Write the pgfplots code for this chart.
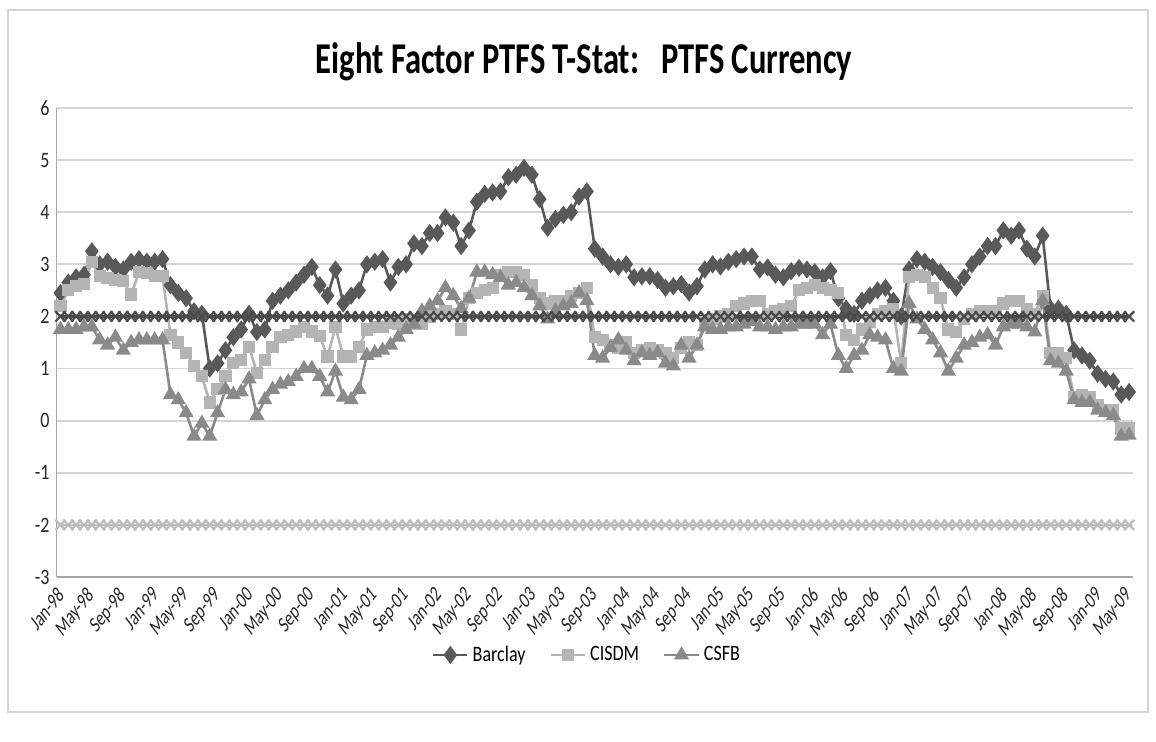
\documentclass[border=0pt]{standalone}
\usepackage{fontspec}
\setmainfont{Carlito}[FakeStretch=0.82]
\newfontfamily\titlefont{Carlito}[FakeStretch=0.74]
\usepackage{pgfplots}
\usepackage{pgfplotstable}
\usepackage{graphicx}
\pgfplotsset{compat=1.18}
\definecolor{cBar}{HTML}{595959}
\definecolor{cCis}{HTML}{B4B4B4}
\definecolor{cCsf}{HTML}{8A8A8A}
\definecolor{cUp}{HTML}{4A4A4A}
\definecolor{cLo}{HTML}{BDBDBD}
\definecolor{cGrid}{HTML}{D4D4D4}
\definecolor{cAxis}{HTML}{A6A6A6}
\newcommand\lbl[1]{\scalebox{0.78}[1]{\rotatebox{45}{#1}}}
\pgfplotstableread{
i B C S U L
0 2.45 2.2 1.75 2 -2
1 2.65 2.5 1.75 2 -2
2 2.75 2.58 1.75 2 -2
3 2.8 2.62 1.8 2 -2
4 3.25 3.05 1.8 2 -2
5 3.0 2.77 1.55 2 -2
6 3.05 2.74 1.45 2 -2
7 2.95 2.7 1.6 2 -2
8 2.9 2.68 1.35 2 -2
9 3.05 2.42 1.5 2 -2
10 3.1 2.85 1.55 2 -2
11 3.05 2.83 1.55 2 -2
12 3.05 2.77 1.55 2 -2
13 3.1 2.77 1.55 2 -2
14 2.6 1.65 0.5 2 -2
15 2.45 1.5 0.4 2 -2
16 2.35 1.3 0.15 2 -2
17 2.1 1.05 -0.3 2 -2
18 2.05 0.85 -0.05 2 -2
19 1.0 0.35 -0.3 2 -2
20 1.1 0.6 0.15 2 -2
21 1.35 0.85 0.6 2 -2
22 1.6 1.1 0.5 2 -2
23 1.75 1.17 0.55 2 -2
24 2.05 1.42 0.8 2 -2
25 1.7 0.92 0.1 2 -2
26 1.75 1.17 0.4 2 -2
27 2.3 1.42 0.6 2 -2
28 2.4 1.6 0.7 2 -2
29 2.5 1.65 0.75 2 -2
30 2.65 1.71 0.85 2 -2
31 2.8 1.8 1.0 2 -2
32 2.95 1.71 1.0 2 -2
33 2.6 1.62 0.85 2 -2
34 2.4 1.23 0.55 2 -2
35 2.9 1.8 0.95 2 -2
36 2.25 1.23 0.45 2 -2
37 2.4 1.23 0.4 2 -2
38 2.5 1.42 0.6 2 -2
39 3.0 1.75 1.25 2 -2
40 3.05 1.8 1.3 2 -2
41 3.1 1.8 1.35 2 -2
42 2.65 1.88 1.45 2 -2
43 2.95 1.85 1.6 2 -2
44 3.0 1.94 1.75 2 -2
45 3.4 1.85 1.85 2 -2
46 3.35 1.85 2.1 2 -2
47 3.6 2.0 2.2 2 -2
48 3.6 2.05 2.3 2 -2
49 3.9 2.1 2.55 2 -2
50 3.8 2.05 2.4 2 -2
51 3.35 1.75 2.15 2 -2
52 3.65 2.35 2.35 2 -2
53 4.2 2.45 2.85 2 -2
54 4.35 2.5 2.85 2 -2
55 4.38 2.55 2.8 2 -2
56 4.4 2.8 2.75 2 -2
57 4.67 2.85 2.6 2 -2
58 4.72 2.85 2.65 2 -2
59 4.85 2.8 2.55 2 -2
60 4.72 2.6 2.4 2 -2
61 4.25 2.35 2.2 2 -2
62 3.7 2.25 1.95 2 -2
63 3.87 2.3 2.1 2 -2
64 3.95 2.3 2.2 2 -2
65 4.0 2.4 2.25 2 -2
66 4.3 2.45 2.45 2 -2
67 4.4 2.55 2.3 2 -2
68 3.3 1.6 1.25 2 -2
69 3.15 1.55 1.2 2 -2
70 3.0 1.45 1.4 2 -2
71 2.95 1.4 1.55 2 -2
72 3.0 1.5 1.35 2 -2
73 2.75 1.3 1.15 2 -2
74 2.77 1.35 1.3 2 -2
75 2.77 1.4 1.25 2 -2
76 2.7 1.35 1.3 2 -2
77 2.55 1.3 1.1 2 -2
78 2.58 1.2 1.05 2 -2
79 2.62 1.4 1.45 2 -2
80 2.46 1.5 1.2 2 -2
81 2.58 1.45 1.45 2 -2
82 2.9 1.9 1.8 2 -2
83 3.0 1.95 1.75 2 -2
84 2.96 2.0 1.75 2 -2
85 3.05 2.05 1.8 2 -2
86 3.1 2.2 1.8 2 -2
87 3.15 2.25 1.85 2 -2
88 3.15 2.3 1.9 2 -2
89 2.9 2.3 1.8 2 -2
90 2.94 2.05 1.8 2 -2
91 2.8 2.1 1.75 2 -2
92 2.75 2.15 1.8 2 -2
93 2.87 2.2 1.8 2 -2
94 2.93 2.5 1.85 2 -2
95 2.9 2.55 1.85 2 -2
96 2.85 2.6 1.85 2 -2
97 2.75 2.55 1.65 2 -2
98 2.87 2.5 1.85 2 -2
99 2.35 2.45 1.25 2 -2
100 2.15 1.65 1.0 2 -2
101 2.05 1.55 1.25 2 -2
102 2.3 1.75 1.35 2 -2
103 2.4 1.9 1.65 2 -2
104 2.5 2.05 1.6 2 -2
105 2.55 2.1 1.55 2 -2
106 2.3 2.15 1.0 2 -2
107 2.0 1.1 0.95 2 -2
108 2.9 2.75 2.25 2 -2
109 3.1 2.8 1.95 2 -2
110 3.05 2.75 1.75 2 -2
111 2.95 2.55 1.55 2 -2
112 2.85 2.35 1.3 2 -2
113 2.7 1.75 0.95 2 -2
114 2.55 1.7 1.2 2 -2
115 2.75 1.95 1.45 2 -2
116 3.0 2.05 1.5 2 -2
117 3.15 2.1 1.6 2 -2
118 3.35 2.1 1.65 2 -2
119 3.35 2.1 1.45 2 -2
120 3.65 2.25 1.8 2 -2
121 3.55 2.3 1.85 2 -2
122 3.65 2.3 1.85 2 -2
123 3.3 2.15 1.8 2 -2
124 3.15 2.05 1.7 2 -2
125 3.55 2.4 2.3 2 -2
126 2.15 1.3 1.15 2 -2
127 2.15 1.3 1.1 2 -2
128 2.05 1.2 0.95 2 -2
129 1.35 0.45 0.4 2 -2
130 1.25 0.5 0.35 2 -2
131 1.15 0.45 0.35 2 -2
132 0.9 0.3 0.2 2 -2
133 0.8 0.2 0.15 2 -2
134 0.75 0.2 0.1 2 -2
135 0.5 -0.15 -0.3 2 -2
136 0.55 -0.15 -0.28 2 -2
}\datatable
\begin{document}
\begin{tikzpicture}
\path[use as bounding box] (0,0) rectangle (578pt,371pt);
\draw[color=cGrid, line width=0.8pt] (4pt,15pt) rectangle (574pt,366pt);
\node[font=\titlefont\bfseries\fontsize{22}{26}\selectfont] at (292pt,340pt) {Eight Factor PTFS T-Stat:\ \ \ PTFS Currency};
\begin{axis}[
  at={(28.25pt,82.5pt)}, anchor=south west,
  scale only axis, width=538.25pt, height=234.5pt,
  xmin=-0.5, xmax=136.5, ymin=-3, ymax=6,
  ytick={-3,-2,...,6},
  xtick={0,4,...,136},
  xticklabels={\lbl{Jan-98},\lbl{May-98},\lbl{Sep-98},\lbl{Jan-99},\lbl{May-99},\lbl{Sep-99},\lbl{Jan-00},\lbl{May-00},\lbl{Sep-00},\lbl{Jan-01},\lbl{May-01},\lbl{Sep-01},\lbl{Jan-02},\lbl{May-02},\lbl{Sep-02},\lbl{Jan-03},\lbl{May-03},\lbl{Sep-03},\lbl{Jan-04},\lbl{May-04},\lbl{Sep-04},\lbl{Jan-05},\lbl{May-05},\lbl{Sep-05},\lbl{Jan-06},\lbl{May-06},\lbl{Sep-06},\lbl{Jan-07},\lbl{May-07},\lbl{Sep-07},\lbl{Jan-08},\lbl{May-08},\lbl{Sep-08},\lbl{Jan-09},\lbl{May-09}},
  axis x line*=bottom, axis y line*=left,
  axis line style={draw=cAxis, line width=0.9pt},
  major tick length=0pt,
  ymajorgrids, grid style={draw=cGrid, line width=0.9pt},
  /pgf/number format/assume math mode=true,
  yticklabel style={font=\fontsize{11}{13}\selectfont, color=black!85},
  xticklabel style={font=\fontsize{11.5}{13}\selectfont, color=black!85, anchor=north east, inner sep=0pt, yshift=-4pt, xshift=2.5pt},
  legend style={at={(0.4937,-0.1663)}, anchor=center, draw=none, fill=none, legend columns=3,
    font=\fontsize{11}{13}\selectfont, /tikz/every even column/.append style={column sep=10pt}},
  legend cell align=left,
  clip=false,
]
\addplot[color=cBar, line width=1.3pt, mark=diamond*, mark size=3.5pt, mark options={solid}] table[x=i,y=B]{\datatable};
\addlegendentry{Barclay}
\addplot[color=cCis, line width=1.3pt, mark=square*, mark size=2.4pt] table[x=i,y=C]{\datatable};
\addlegendentry{CISDM}
\addplot[color=cCsf, line width=1.3pt, mark=triangle*, mark size=3.1pt] table[x=i,y=S]{\datatable};
\addlegendentry{CSFB}
\addplot[forget plot, color=cUp, line width=1.2pt, mark=x, mark size=3.6pt, mark options={line width=1.1pt}] table[x=i,y=U]{\datatable};
\addplot[forget plot, color=cLo, line width=1.2pt, mark=x, mark size=3.6pt, mark options={line width=1.1pt}] table[x=i,y=L]{\datatable};
\end{axis}
\end{tikzpicture}
\end{document}
